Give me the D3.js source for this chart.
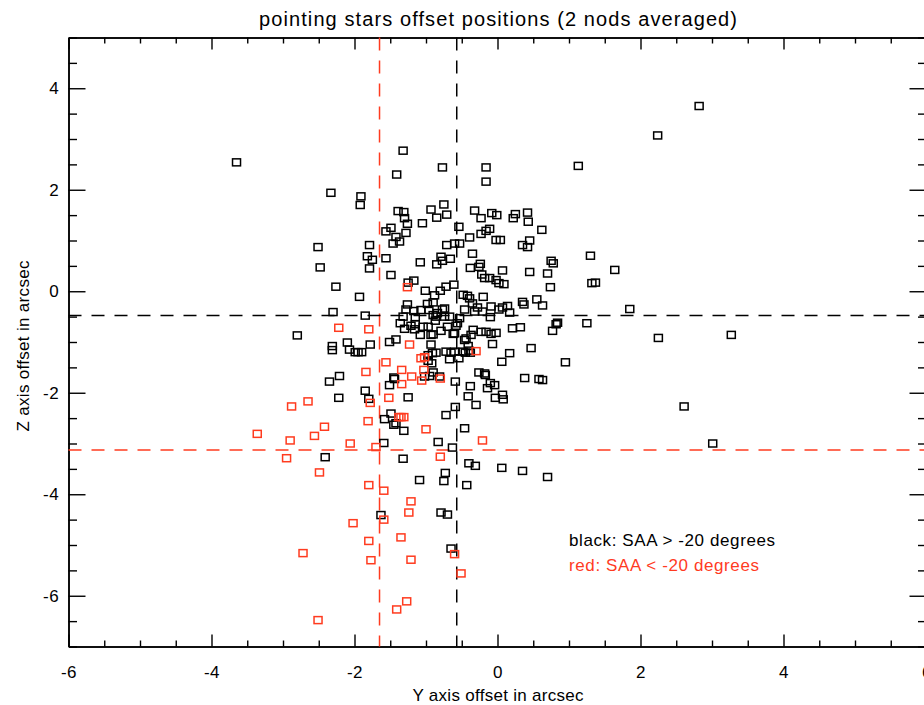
<!DOCTYPE html>
<html>
<head>
<meta charset="utf-8">
<script src="https://cdn.jsdelivr.net/npm/d3@7"></script>
<style>
  html, body { margin: 0; padding: 0; background: #fff; }
  svg { display: block; font-family: "Liberation Sans", Arial, Helvetica, sans-serif; }
</style>
</head>
<body>
<svg id="chart" width="924" height="705"></svg>
<script>
// ---------------- data ----------------
const chartTitle = "pointing stars offset positions (2 nods averaged)";
const xAxisTitle = "Y axis offset in arcsec";
const yAxisTitle = "Z axis offset in arcsec";
const legendLabels = ["black: SAA > -20 degrees", "red: SAA < -20 degrees"];

const xMajorTicks = [-6, -4, -2, 0, 2, 4, 6];
const yMajorTicks = [-6, -4, -2, 0, 2, 4];
const xDomain = [-6, 6];
const yDomain = [-7, 5];

// mean offsets (dashed lines)
const blackMeanY = -0.57, blackMeanZ = -0.48;
const redMeanY = -1.65, redMeanZ = -3.13;

// SAA > -20 deg (black squares)
const blackY = [
 -3.65,2.82,2.24,1.13,-1.32,-0.77,-0.16,-0.16,-1.41,-2.33,-1.91,-1.92,-0.75,-0.93,-1.39,-1.31,-0.71,-1.30,-0.85,-1.26,
 -1.05,-1.49,-1.56,-1.28,-1.42,-1.37,-1.46,-2.51,-1.79,-0.71,-0.60,-1.82,-1.75,-1.56,-1.08,-0.79,-0.77,-0.66,-0.85,-2.48,
 -1.79,-1.49,-1.25,-1.17,-2.26,-1.01,-0.72,-0.61,-0.80,-0.88,-1.93,-1.26,-0.90,-0.98,-2.30,-0.74,
 -0.32,-0.23,-0.08,-0.01,0.25,0.22,0.42,0.43,-0.54,0.62,-0.11,-0.16,-0.23,-0.39,-0.02,0.04,0.45,0.35,0.42,-0.53,
 1.30,-0.35,0.75,0.78,-0.24,-0.26,-0.38,0.07,0.45,0.70,1.64,-0.22,-0.18,-0.11,-0.02,0.02,0.09,0.74,1.32,1.37,
 -0.48,-0.42,-0.39,-0.20,0.55,0.35,0.37,0.63,
 -0.46,-0.35,-0.28,-0.21,-0.09,0.02,0.07,0.14,0.17,-0.10,-0.53,-0.56,-0.58,-0.60,-0.34,-0.23,-0.16,-0.09,-0.02,-0.37,
 -0.44,-0.46,-0.07,-0.41,-0.40,-0.48,-0.45,-0.38,-0.60,-0.65,-0.54,0.21,0.32,0.77,0.82,0.84,1.25,0.47,0.17,0.06,
 0.95,-0.26,-0.18,-0.17,0.38,0.58,0.63,-0.59,-0.38,-0.10,-0.04,-0.14,-0.41,-0.03,0.07,0.08,-0.30,-0.59,-0.46,-0.63,
 -0.40,-0.31,0.06,0.35,0.70,
 -1.85,-2.80,-2.31,-2.31,-2.10,-2.07,-1.99,-1.95,-1.90,-1.78,-1.51,-1.42,-1.28,-1.32,-1.36,-1.30,-1.17,-1.15,-1.07,-1.08,
 -0.96,-0.97,-0.90,-0.86,-0.87,-0.93,-0.90,-0.93,-0.77,-0.74,-0.79,-0.67,-0.70,-0.62,-0.86,-0.91,-0.97,-0.72,-0.67,-1.45,
 -1.44,-1.51,-0.95,-0.90,-2.35,-2.21,-1.85,-1.80,-2.22,-1.25,-0.72,-1.49,-1.58,-1.45,-1.42,-1.31,-0.83,-1.59,-2.41,-1.32,
 -0.73,-0.75,-1.09,-0.43,-0.79,-0.70,-1.63,-0.65,
 1.85,2.25,3.27,2.61,3.01,
 -1.15,-0.84,-0.32,-1.04,-1.21,-1.16,-0.97,-0.92,-1.02,-0.81
];
const blackZ = [
 2.54,3.65,3.07,2.47,2.77,2.44,2.44,2.16,2.30,1.94,1.87,1.70,1.71,1.61,1.58,1.56,1.51,1.44,1.45,1.33,
 1.34,1.25,1.18,1.15,1.07,0.98,0.94,0.87,0.91,0.91,0.94,0.69,0.62,0.65,0.57,0.68,0.60,0.64,0.53,0.47,
 0.45,0.32,0.17,0.21,0.09,0.01,0.09,0.13,0.01,-0.08,-0.11,-0.26,-0.22,-0.25,-0.41,-0.34,
 1.59,1.44,1.54,1.50,1.52,1.44,1.55,1.37,1.27,1.21,1.23,1.19,1.13,1.06,1.01,1.01,1.00,0.91,0.87,0.94,
 0.70,0.74,0.60,0.55,0.54,0.48,0.46,0.41,0.38,0.35,0.42,0.33,0.26,0.26,0.22,0.16,0.14,0.08,0.16,0.17,
 -0.07,-0.09,-0.14,-0.11,-0.16,-0.21,-0.26,-0.28,
 -0.36,-0.24,-0.32,-0.40,-0.30,-0.36,-0.32,-0.29,-0.42,-0.51,-0.53,-0.63,-0.68,-0.83,-0.76,-0.80,-0.80,-0.84,-0.82,-0.86,
 -0.93,-0.96,-1.04,-1.08,-1.17,-1.19,-1.21,-1.21,-1.19,-1.21,-1.32,-0.73,-0.71,-0.78,-0.65,-0.62,-0.63,-1.12,-1.22,-1.39,
 -1.40,-1.60,-1.62,-1.65,-1.71,-1.73,-1.75,-1.78,-1.87,-1.81,-1.85,-1.91,-2.07,-2.10,-2.04,-2.13,-2.24,-2.28,-2.70,-3.08,
 -3.39,-3.44,-3.48,-3.54,-3.66,
 -0.48,-0.87,-1.08,-1.16,-1.01,-1.15,-1.20,-1.20,-1.20,-1.05,-1.00,-0.95,-0.36,-0.50,-0.63,-0.74,-0.39,-0.65,-0.37,-0.86,
 -0.37,-0.70,-0.47,-0.50,-0.58,-0.86,-0.85,-1.05,-0.36,-0.50,-0.78,-0.50,-0.70,-0.84,-1.21,-1.22,-1.37,-1.19,-1.34,-1.70,
 -1.73,-1.85,-1.67,-1.60,-1.78,-1.67,-1.96,-2.12,-2.10,-2.09,-2.44,-2.41,-2.52,-2.63,-2.60,-2.75,-2.97,-2.99,-3.27,-3.30,
 -3.58,-3.74,-3.72,-3.82,-4.36,-4.40,-4.41,-5.07,
 -0.35,-0.92,-0.86,-2.27,-3.00,
 -0.51,-0.43,-0.40,-0.70,-0.68,-0.75,-1.26,-1.42,-1.68,-1.68
];

// SAA < -20 deg (red squares)
const redY = [
 -1.26,-2.22,-1.80,-1.23,-1.07,-1.02,-1.56,-1.84,-1.34,-1.20,-1.03,-1.06,-0.80,-1.34,-0.30,-1.52,-1.78,-2.65,-2.88,-1.38,
 -1.35,-1.31,-1.81,-2.42,-1.00,-2.56,-2.90,-3.36,-2.06,-1.70,-0.80,-2.95,-2.49,-0.21,-1.80,-1.59,-1.21,-1.24,-1.59,-2.02,
 -1.35,-1.80,-2.72,-0.60,-1.77,-1.21,-0.51,-1.27,-1.41,-2.51
];
const redZ = [
 0.08,-0.72,-0.75,-1.05,-1.32,-1.30,-1.40,-1.59,-1.55,-1.68,-1.55,-1.76,-1.72,-1.83,-1.18,-2.10,-2.20,-2.17,-2.27,-2.48,
 -2.48,-2.48,-2.56,-2.67,-2.72,-2.85,-2.94,-2.81,-3.00,-3.07,-3.26,-3.29,-3.57,-2.94,-3.82,-3.93,-4.14,-4.36,-4.50,-4.57,
 -4.85,-4.92,-5.16,-5.18,-5.30,-5.29,-5.56,-6.11,-6.27,-6.48
];

// ---------------- drawing ----------------
const plot = { left: 68.5, right: 926.5, top: 37.5, bottom: 646.5 };
const RED = "#ff3b1f";
const FONT = 17;
const FAMILY = '"Liberation Sans", Arial, Helvetica, sans-serif';

const svg = d3.select("#chart");
const x = d3.scaleLinear().domain(xDomain).range([plot.left, plot.right]);
const y = d3.scaleLinear().domain(yDomain).range([plot.bottom, plot.top]);

const minorVals = (dom, step) => d3.range(dom[0], dom[1] + 1e-9, step);
const xMinor = minorVals(xDomain, 0.5).filter(v => !xMajorTicks.includes(v));
const yMinor = minorVals(yDomain, 0.5).filter(v => Math.abs(v % 2) > 1e-9);

const xMajLen = 12, xMinLen = 6;     // vertical tick lengths on horizontal axes
const yMajLen = 17, yMinLen = 8.5;   // horizontal tick lengths on vertical axes

function styleAxis(g) {
  g.selectAll("path.domain").attr("stroke", "#000").attr("stroke-width", 1.5);
  g.selectAll(".tick line").attr("stroke", "#000").attr("stroke-width", 1.4);
  g.selectAll("text").attr("fill", "#000").style("font-size", FONT + "px")
    .style("font-family", FAMILY).style("letter-spacing", "0.4px");
}

// bottom axis
svg.append("g").attr("transform", `translate(0,${plot.bottom})`)
  .call(d3.axisBottom(x).tickValues(xMajorTicks).tickSizeInner(-xMajLen).tickSizeOuter(0)
        .tickPadding(19).tickFormat(d => String(d)))
  .call(styleAxis);
svg.append("g").attr("transform", `translate(0,${plot.bottom})`)
  .call(d3.axisBottom(x).tickValues(xMinor).tickSizeInner(-xMinLen).tickSizeOuter(0).tickFormat(""))
  .call(styleAxis);
// top axis
svg.append("g").attr("transform", `translate(0,${plot.top})`)
  .call(d3.axisTop(x).tickValues(xMajorTicks).tickSizeInner(-xMajLen).tickSizeOuter(0).tickFormat(""))
  .call(styleAxis);
svg.append("g").attr("transform", `translate(0,${plot.top})`)
  .call(d3.axisTop(x).tickValues(xMinor).tickSizeInner(-xMinLen).tickSizeOuter(0).tickFormat(""))
  .call(styleAxis);
// left axis
svg.append("g").attr("transform", `translate(${plot.left},0)`)
  .call(d3.axisLeft(y).tickValues(yMajorTicks).tickSizeInner(-yMajLen).tickSizeOuter(0)
        .tickPadding(9.5).tickFormat(d => String(d)))
  .call(styleAxis);
svg.append("g").attr("transform", `translate(${plot.left},0)`)
  .call(d3.axisLeft(y).tickValues(yMinor).tickSizeInner(-yMinLen).tickSizeOuter(0).tickFormat(""))
  .call(styleAxis);
// right axis
svg.append("g").attr("transform", `translate(${plot.right},0)`)
  .call(d3.axisRight(y).tickValues(yMajorTicks).tickSizeInner(-yMajLen).tickSizeOuter(0).tickFormat(""))
  .call(styleAxis);
svg.append("g").attr("transform", `translate(${plot.right},0)`)
  .call(d3.axisRight(y).tickValues(yMinor).tickSizeInner(-yMinLen).tickSizeOuter(0).tickFormat(""))
  .call(styleAxis);

// dashed mean lines
const dash = "13,10";
const lines = svg.append("g").attr("fill", "none").attr("stroke-width", 1.5).attr("stroke-dasharray", dash);
lines.append("line").attr("x1", x(blackMeanY)).attr("x2", x(blackMeanY))
  .attr("y1", y(yDomain[1])).attr("y2", y(yDomain[0])).attr("stroke", "#000");
lines.append("line").attr("x1", x(redMeanY)).attr("x2", x(redMeanY))
  .attr("y1", y(yDomain[1])).attr("y2", y(yDomain[0])).attr("stroke", RED);
lines.append("line").attr("y1", y(blackMeanZ)).attr("y2", y(blackMeanZ))
  .attr("x1", x(xDomain[0])).attr("x2", x(xDomain[1])).attr("stroke", "#000");
lines.append("line").attr("y1", y(redMeanZ)).attr("y2", y(redMeanZ))
  .attr("x1", x(xDomain[0])).attr("x2", x(xDomain[1])).attr("stroke", RED);

// squares
const sqW = 8, sqH = 7;
function drawSquares(xs, zs, color) {
  svg.append("g").attr("fill", "none").attr("stroke", color).attr("stroke-width", 1.5)
    .selectAll("rect").data(d3.zip(xs, zs)).join("rect")
    .attr("x", d => x(d[0]) - sqW / 2).attr("y", d => y(d[1]) - sqH / 2)
    .attr("width", sqW).attr("height", sqH);
}
drawSquares(blackY, blackZ, "#000");
drawSquares(redY, redZ, RED);

// titles
function addText(txt, attrs, size, len, color) {
  const t = svg.append("text").style("font-size", size + "px").style("font-family", FAMILY)
    .attr("fill", color || "#000").attr("textLength", len).attr("lengthAdjust", "spacing").text(txt);
  Object.entries(attrs).forEach(([k, v]) => t.attr(k, v));
  return t;
}
addText(chartTitle, { x: 498, y: 26, "text-anchor": "middle" }, 20, 478);
addText(xAxisTitle, { x: 498, y: 701, "text-anchor": "middle" }, FONT, 171);
addText(yAxisTitle, { transform: `translate(29,${(plot.top + plot.bottom) / 2 + 4}) rotate(-90)`, "text-anchor": "middle" }, FONT, 171);

// legend
addText(legendLabels[0], { x: 569, y: 546 }, FONT, 206);
addText(legendLabels[1], { x: 569, y: 571 }, FONT, 190, RED);
</script>
</body>
</html>
